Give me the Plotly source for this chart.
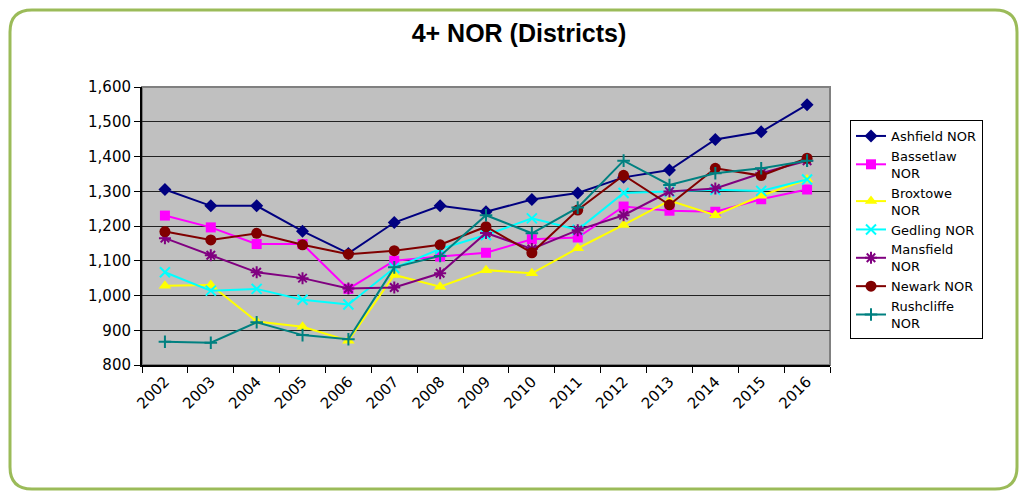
import plotly.graph_objects as go

years = [str(y) for y in range(2002, 2017)]
ashfield = [1305, 1258, 1258, 1185, 1121, 1210, 1258, 1241, 1276, 1295, 1340, 1361, 1449, 1471, 1549]
bassetlaw = [1230, 1196, 1148, 1148, 1019, 1100, 1112, 1123, 1162, 1167, 1256, 1244, 1241, 1277, 1305]
broxtowe = [1028, 1030, 925, 910, 870, 1059, 1025, 1073, 1064, 1136, 1203, 1273, 1231, 1287, 1334]
gedling = [1067, 1014, 1019, 988, 974, 1079, 1134, 1174, 1222, 1189, 1295, 1299, 1304, 1301, 1334]
mansfield = [1165, 1116, 1067, 1050, 1020, 1023, 1064, 1180, 1134, 1188, 1231, 1299, 1308, 1352, 1388]
newark = [1184, 1160, 1179, 1146, 1119, 1129, 1146, 1198, 1123, 1246, 1346, 1261, 1366, 1345, 1395]
rushcliffe = [867, 864, 923, 886, 874, 1081, 1114, 1231, 1179, 1253, 1388, 1318, 1352, 1366, 1388]

series = [
    ("Ashfield NOR", ashfield, "#000080", "diamond", 10),
    ("Bassetlaw<br>NOR", bassetlaw, "#FF00FF", "square", 10),
    ("Broxtowe<br>NOR", broxtowe, "#FFFF00", "triangle-up", 11),
    ("Gedling NOR", gedling, "#00FFFF", "x-thin", 10),
    ("Mansfield<br>NOR", mansfield, "#800080", "asterisk", 10),
    ("Newark NOR", newark, "#800000", "circle", 11),
    ("Rushcliffe<br>NOR", rushcliffe, "#008080", "cross-thin", 9),
]

fig = go.Figure()
for name, vals, col, sym, sz in series:
    thin = sym in ("x-thin", "asterisk", "cross-thin")
    fig.add_trace(go.Scatter(
        x=years, y=vals, name=name, mode="lines+markers",
        line=dict(color=col, width=2),
        marker=dict(symbol=sym, size=sz, color=col,
                    line=dict(color=col, width=2 if thin else 0)),
    ))

# page body has an 8px margin; work in screen pixels and shift
OFF = 8
W, H = 1027 - OFF, 494 - OFF
L, R, T, B = 142 - OFF, 830 - OFF, 87 - OFF, 365 - OFF
pw, ph = R - L, B - T

def px(x):
    return (x - OFF - L) / pw

def py(y):
    return (B - (y - OFF)) / ph

# rounded green outer border (screen coords, kept inside the figure)
x0, x1, y0, y1, r = 10, 1017, 10, 489, 22
path = (f"M {px(x0 + r)} {py(y0)} L {px(x1 - r)} {py(y0)} "
        f"Q {px(x1)} {py(y0)} {px(x1)} {py(y0 + r)} "
        f"L {px(x1)} {py(y1 - r)} Q {px(x1)} {py(y1)} {px(x1 - r)} {py(y1)} "
        f"L {px(x0 + r)} {py(y1)} Q {px(x0)} {py(y1)} {px(x0)} {py(y1 - r)} "
        f"L {px(x0)} {py(y0 + r)} Q {px(x0)} {py(y0)} {px(x0 + r)} {py(y0)} Z")

tickfont = dict(family="DejaVu Sans, Arial, sans-serif", size=15, color="black")

fig.update_layout(
    width=W, height=H,
    margin=dict(l=L, r=W - R, t=T, b=H - B),
    paper_bgcolor="white",
    plot_bgcolor="#C0C0C0",
    font=dict(family="Arial, Liberation Sans, sans-serif", color="black"),
    title=dict(text="<b>4+ NOR (Districts)</b>", x=px(519), xref="paper",
               y=1 - (33 - OFF) / H, yanchor="middle", xanchor="center",
               font=dict(size=25)),
    xaxis=dict(type="category", tickangle=-45, ticks="outside", tickson="boundaries",
               ticklen=6, tickcolor="black", showline=True, linecolor="black",
               linewidth=2, showgrid=False, tickfont=tickfont, range=[-0.5, 14.5]),
    yaxis=dict(range=[800, 1600], dtick=100, tickformat=",", ticks="outside",
               ticklen=6, tickcolor="black", showline=True, linecolor="black",
               linewidth=2, gridcolor="#222222", gridwidth=1, tickfont=tickfont,
               zeroline=False),
    legend=dict(x=px(850), y=py(120), xanchor="left", yanchor="top",
                bgcolor="white", bordercolor="black", borderwidth=1,
                font=dict(family="DejaVu Sans, Arial, sans-serif", size=13),
                tracegroupgap=0),
    shapes=[
        dict(type="rect", xref="paper", yref="paper", x0=0, x1=1, y0=0, y1=1,
             line=dict(color="#808080", width=2), layer="below"),
        dict(type="path", xref="paper", yref="paper", path=path,
             line=dict(color="#9BBB59", width=3)),
    ],
)

fig.write_html("out.html")
